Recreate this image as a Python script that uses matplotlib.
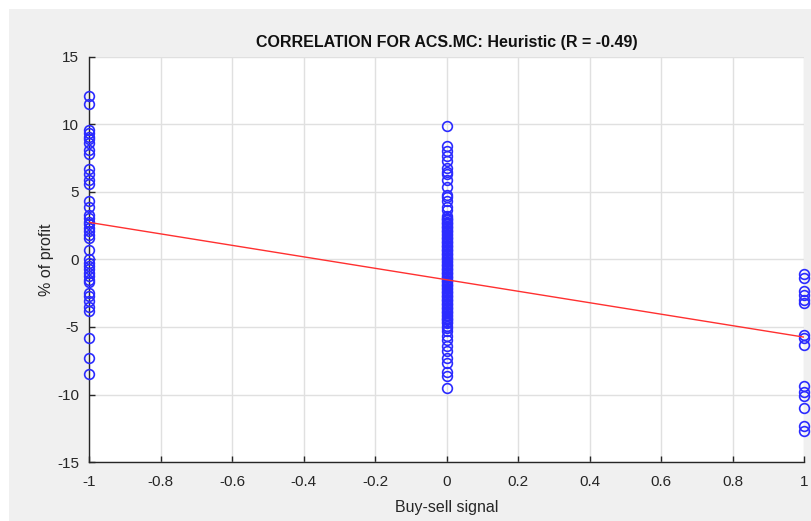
import matplotlib
matplotlib.use("Agg")
import matplotlib.pyplot as plt
from matplotlib.patches import Rectangle

plt.rcParams['font.family'] = ['Liberation Sans', 'DejaVu Sans']

# Data: % of profit per buy-sell signal
sell_values = [12.1, 11.5, 9.6, 9.4, 9.1, 8.9, 8.6, 8.1, 7.8, 6.7, 6.3, 5.9, 5.6,
               4.3, 3.9, 3.3, 3.1, 2.8, 2.6, 2.3, 2.1, 1.8, 1.6, 0.7, 0.0, -0.25,
               -0.5, -0.7, -1.0, -1.2, -1.5, -1.7, -2.5, -2.7, -3.1, -3.5, -3.8,
               -5.8, -7.3, -8.5]
hold_values = [9.9, 8.4, 8.0, 7.7, 7.3, 6.8, 6.5, 6.3, 5.9, 5.4, 4.8, 4.6, 4.3, 3.9,
               3.7, 3.2, 3.1, 3.0, 2.9, 2.8, 2.7, 2.6, 2.5, 2.4, 2.3, 2.2, 2.1, 2.0,
               1.9, 1.8, 1.7, 1.6, 1.5, 1.4, 1.3, 1.2, 1.1, 1.0, 0.9, 0.8, 0.7, 0.6,
               0.5, 0.4, 0.3, 0.2, 0.1, 0.0, -0.1, -0.2, -0.3, -0.4, -0.5, -0.6,
               -0.7, -0.8, -0.9, -1.0, -1.1, -1.2, -1.3, -1.4, -1.5, -1.6, -1.7,
               -1.8, -1.9, -2.0, -2.1, -2.2, -2.3, -2.4, -2.5, -2.6, -2.7, -2.8,
               -2.9, -3.0, -3.1, -3.2, -3.3, -3.4, -3.5, -3.6, -3.7, -3.8, -3.9,
               -4.0, -4.1, -4.2, -4.3, -4.4, -4.5, -4.6, -4.7, -4.9, -5.1, -5.3,
               -5.7, -6.0, -6.4, -6.8, -7.3, -7.7, -8.3, -8.6, -9.5]
buy_values = [-1.1, -1.4, -2.3, -2.6, -3.0, -3.2, -5.6, -5.8, -6.3, -9.4, -9.8,
              -10.1, -11.0, -12.3, -12.7]
signal_levels = [-1, 0, 1]
fit_x = [-1, 1]
fit_y = [2.75, -5.75]

x_ticks = [-1, -0.8, -0.6, -0.4, -0.2, 0, 0.2, 0.4, 0.6, 0.8, 1]
x_tick_labels = ['-1', '-0.8', '-0.6', '-0.4', '-0.2', '0', '0.2', '0.4', '0.6', '0.8', '1']
y_ticks = [-15, -10, -5, 0, 5, 10, 15]
y_tick_labels = ['-15', '-10', '-5', '0', '5', '10', '15']

fig = plt.figure(figsize=(8.11, 5.21), dpi=100, facecolor='white')
fig.patches.append(Rectangle((9 / 811, 0), 1 - 9 / 811, 1 - 9 / 521,
                             transform=fig.transFigure, facecolor='#f0f0f0',
                             edgecolor='none', zorder=-10))
ax = fig.add_axes([89 / 811, 1 - 462 / 521, (804 - 89) / 811, (462 - 57) / 521])
ax.set_facecolor('white')

groups = [sell_values, hold_values, buy_values]
for lvl, vals in zip(signal_levels, groups):
    ax.plot([lvl] * len(vals), vals, linestyle='none', marker='o',
            markersize=7, markerfacecolor='none', markeredgecolor='#2b2bff',
            markeredgewidth=1.2, clip_on=False, zorder=3)

ax.plot(fit_x, fit_y, color='#ff3030', linewidth=1.0, zorder=4)

ax.set_xlim(-1, 1)
ax.set_ylim(-15, 15)
ax.set_xticks(x_ticks)
ax.set_xticklabels(x_tick_labels)
ax.set_yticks(y_ticks)
ax.set_yticklabels(y_tick_labels)
ax.grid(True, color='#e0e0e0', linewidth=1.0)
ax.set_axisbelow(True)
for s in ['top', 'right']:
    ax.spines[s].set_visible(False)
for s in ['left', 'bottom']:
    ax.spines[s].set_color('#262626')
    ax.spines[s].set_linewidth(1.0)
ax.tick_params(direction='in', length=4, width=1.0, colors='#262626',
               labelsize=11)
ax.tick_params(axis='x', pad=9)
ax.tick_params(axis='y', pad=7)

ax.set_title('CORRELATION FOR ACS.MC: Heuristic (R = -0.49)', fontsize=11.5,
             fontweight='bold', color='#111111', pad=7)
ax.set_xlabel('Buy-sell signal', fontsize=11.5, color='#262626', labelpad=8)
ax.set_ylabel('% of profit', fontsize=11.5, color='#262626', labelpad=2)

fig.savefig('out.png', dpi=100, facecolor=fig.get_facecolor())
